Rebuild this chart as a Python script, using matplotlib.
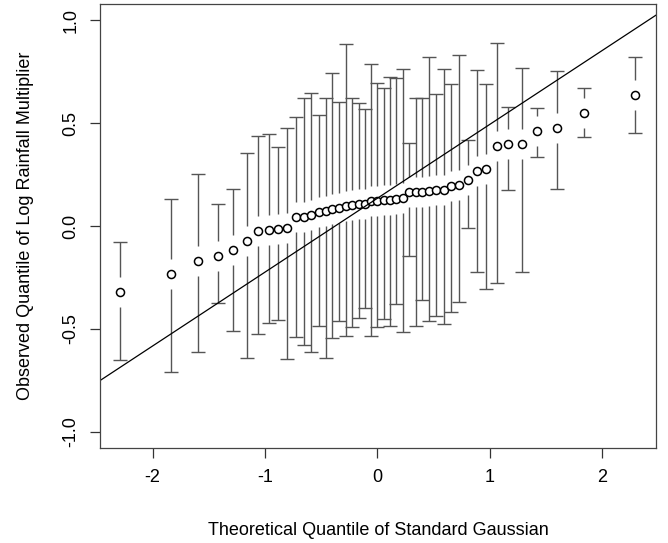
import numpy as np
import matplotlib
matplotlib.use("Agg")
import matplotlib.pyplot as plt

plt.rcParams['font.family'] = ['Liberation Sans', 'DejaVu Sans']

# theoretical normal quantiles and observed log rainfall multiplier quantiles
theo_q = [-2.287, -1.834, -1.593, -1.420, -1.282, -1.164, -1.061, -0.967, -0.882,
          -0.803, -0.728, -0.657, -0.589, -0.524, -0.462, -0.400, -0.341, -0.282,
          -0.225, -0.168, -0.112, -0.056, 0.000, 0.056, 0.112, 0.168, 0.225,
          0.282, 0.341, 0.400, 0.462, 0.524, 0.589, 0.657, 0.728, 0.803, 0.882,
          0.967, 1.061, 1.164, 1.282, 1.420, 1.593, 1.834, 2.287]
obs_q = [-0.319, -0.233, -0.168, -0.146, -0.117, -0.071, -0.024, -0.019, -0.013,
         -0.008, 0.044, 0.044, 0.052, 0.068, 0.074, 0.081, 0.086, 0.097,
         0.103, 0.108, 0.107, 0.120, 0.121, 0.125, 0.126, 0.130, 0.136,
         0.165, 0.165, 0.165, 0.170, 0.175, 0.175, 0.196, 0.199, 0.222, 0.268,
         0.275, 0.388, 0.400, 0.400, 0.463, 0.476, 0.550, 0.636]
ci_upper = [-0.076, 0.130, 0.251, 0.107, 0.178, 0.356, 0.438, 0.445, 0.385,
            0.474, 0.528, 0.624, 0.647, 0.539, 0.624, 0.744, 0.603, 0.883,
            0.624, 0.595, 0.568, 0.785, 0.693, 0.672, 0.722, 0.717, 0.762,
            0.404, 0.620, 0.620, 0.819, 0.641, 0.762, 0.688, 0.830, 0.417, 0.757,
            0.688, 0.887, 0.579, 0.768, 0.571, 0.752, 0.671, 0.819]
ci_lower = [-0.650, -0.707, -0.610, -0.375, -0.510, -0.642, -0.526, -0.472, -0.456,
            -0.646, -0.537, -0.578, -0.612, -0.485, -0.639, -0.542, -0.461, -0.532,
            -0.492, -0.445, -0.396, -0.532, -0.492, -0.451, -0.485, -0.380, -0.513,
            -0.146, -0.485, -0.359, -0.461, -0.435, -0.474, -0.416, -0.370, -0.008, -0.222,
            -0.306, -0.278, 0.175, -0.222, 0.336, 0.181, 0.431, 0.453]

line_intercept = 0.135
line_slope = 0.359

x = np.array(theo_q)
y = np.array(obs_q)
hi = np.array(ci_upper)
lo = np.array(ci_lower)

fig = plt.figure(figsize=(6.68, 5.43), dpi=100)
ax = fig.add_axes([0.1497, 0.175, 0.8323, 0.8176])

# bars leave a small gap around each point
gap = 0.073
bar_col = '#555555'
m = hi > y + gap
ax.vlines(x[m], (y + gap)[m], hi[m], color=bar_col, lw=1.0)
m = lo < y - gap
ax.vlines(x[m], lo[m], (y - gap)[m], color=bar_col, lw=1.0)
ax.plot(x, hi, ls='none', marker='_', ms=10, mew=1.0, color=bar_col)
ax.plot(x, lo, ls='none', marker='_', ms=10, mew=1.0, color=bar_col)

ax.plot(x, y, ls='none', marker='o', ms=5.8, mfc='white', mec='black', mew=1.1)

ax.axline((0, line_intercept), slope=line_slope, color='black', lw=0.9)

ax.set_xlim(-2.467, 2.476)
ax.set_ylim(-1.078, 1.078)
ax.set_xticks([-2, -1, 0, 1, 2])
ax.set_yticks([-1.0, -0.5, 0.0, 0.5, 1.0])
ax.set_xticklabels(['-2', '-1', '0', '1', '2'])
ax.set_yticklabels(['-1.0', '-0.5', '0.0', '0.5', '1.0'], rotation=90, va='center')
ax.tick_params(length=7, width=0.9, labelsize=13, color='#333333', pad=8)
for s in ax.spines.values():
    s.set_color('#444444')
    s.set_linewidth(0.9)

ax.set_xlabel('Theoretical Quantile of Standard Gaussian', fontsize=13, labelpad=26)
ax.set_ylabel('Observed Quantile of Log Rainfall Multiplier', fontsize=13, labelpad=20)

fig.savefig('out.png', dpi=100)
